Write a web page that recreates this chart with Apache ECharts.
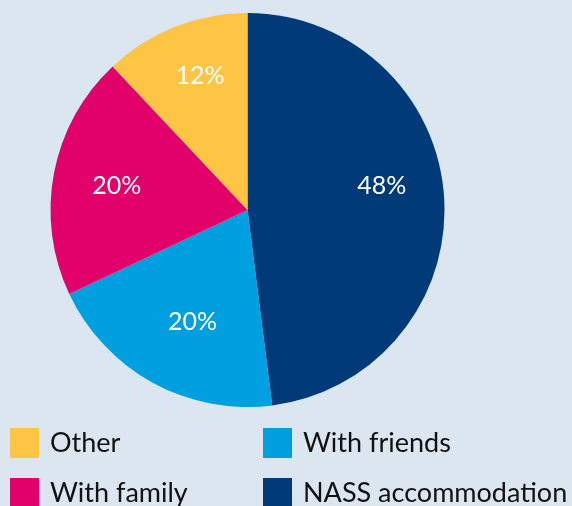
<!DOCTYPE html>
<html>
<head>
<meta charset="utf-8">
<script src="https://cdn.jsdelivr.net/npm/echarts@6/dist/echarts.min.js"></script>
<style>
html,body{margin:0;padding:0;background:#dbe6f1;}
#c{width:572px;height:506px;}
</style>
</head>
<body>
<div id="c"></div>
<script>
const categories = ['NASS accommodation', 'With friends', 'With family', 'Other'];
const values = [48, 20, 20, 12];
const colors = ['#003a78', '#009fe0', '#e2006a', '#fdc543'];

const labelShift = [[33, -18], [-6, 23], [-31, -5], [-10, -40]];
const font = 'Lato, "Open Sans", sans-serif';

const chart = echarts.init(document.getElementById('c'));
const legendBase = {
  top: 428, orient: 'vertical', itemWidth: 29, itemHeight: 30, itemGap: 20,
  padding: 0, height: 120, icon: 'rect',
  textStyle: { fontFamily: font, fontSize: 27, color: '#111', padding: [4, 0, 0, 6] }
};
chart.setOption({
  backgroundColor: '#dbe6f1',
  animation: false,
  legend: [
    Object.assign({ left: 10, data: ['Other', 'With family'] }, legendBase),
    Object.assign({ left: 263, data: ['With friends', 'NASS accommodation'] }, legendBase)
  ],
  series: [
    {
      type: 'pie', center: [247.5, 210], radius: [0, 197], startAngle: 90, clockwise: true,
      silent: true, labelLine: { show: false },
      label: { show: true, position: 'inside', formatter: '{c}%', color: '#fff', fontFamily: font, fontSize: 25 },
      data: categories.map((n, i) => ({
        name: n, value: values[i], itemStyle: { color: colors[i] },
        label: { offset: labelShift[i] }
      }))
    }
  ]
});
</script>
</body>
</html>
